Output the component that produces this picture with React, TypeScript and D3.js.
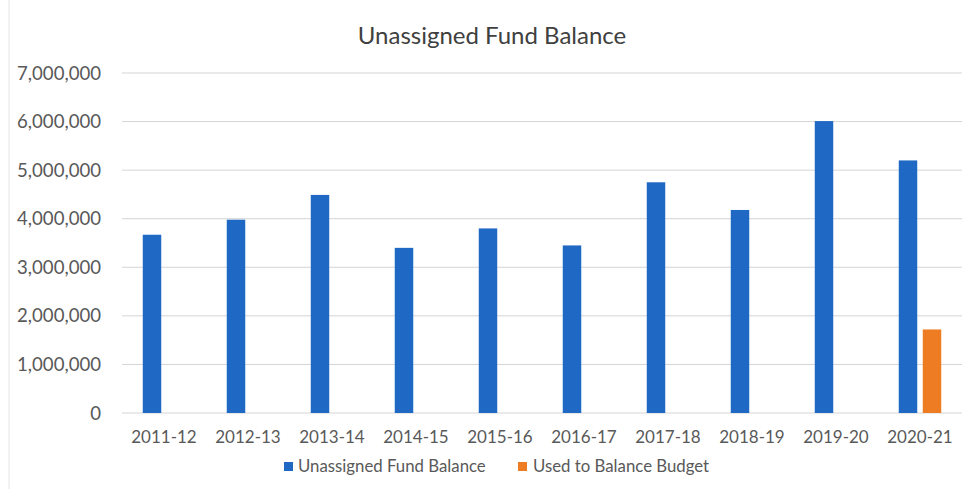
import React from "react";
import * as d3 from "d3";

const categories = ["2011-12", "2012-13", "2013-14", "2014-15", "2015-16", "2016-17", "2017-18", "2018-19", "2019-20", "2020-21"];
const unassigned = [3670000, 3980000, 4490000, 3400000, 3800000, 3450000, 4750000, 4180000, 6010000, 5200000];
const usedToBalance: (number | null)[] = [null, null, null, null, null, null, null, null, null, 1720000];
const seriesNames = ["Unassigned Fund Balance", "Used to Balance Budget"];
const seriesColors = ["#1f68c4", "#ee7c22"];
const yTicks = [0, 1000000, 2000000, 3000000, 4000000, 5000000, 6000000, 7000000];

const W = 966;
const H = 489;
const FONT = "Lato, 'Open Sans', sans-serif";

export default function App() {
  const x = d3.scaleBand<string>().domain(categories).range([122, 962]).paddingInner(0).paddingOuter(0);
  const bw = x.bandwidth();
  const sub = d3
    .scaleBand<string>()
    .domain(seriesNames)
    .range([bw / 2 - 24, bw / 2 + 24])
    .paddingInner(0.23)
    .paddingOuter(0.115);
  const y = d3.scaleLinear().domain([0, 7000000]).range([413, 73]);
  const fmt = d3.format(",");

  const seriesData = [unassigned, usedToBalance];

  return (
    <svg width={W} height={H} style={{ position: "absolute", left: 0, top: 0, background: "#fff" }}>
      <rect x={0} y={0} width={W} height={H} fill="#fff" />
      <line x1={9} x2={9} y1={0} y2={H} stroke="#e4e4e4" />
      <text x={492} y={44} textAnchor="middle" fontFamily={FONT} fontSize={24} fill="#404040">
        Unassigned Fund Balance
      </text>
      {yTicks.map((t) => (
        <g key={t}>
          <line x1={122} x2={962} y1={y(t)} y2={y(t)} stroke="#d4d4d4" strokeWidth={1} />
          <text x={101} y={y(t) + 6.5} textAnchor="end" fontFamily={FONT} fontSize={18.6} fill="#595959">
            {fmt(t)}
          </text>
        </g>
      ))}
      {seriesData.map((vals, si) =>
        vals.map((v, i) =>
          v == null ? null : (
            <rect
              key={si + "-" + i}
              x={(x(categories[i]) as number) + (sub(seriesNames[si]) as number)}
              y={y(v)}
              width={sub.bandwidth()}
              height={y(0) - y(v)}
              fill={seriesColors[si]}
            />
          )
        )
      )}
      {categories.map((c) => (
        <text
          key={c}
          x={(x(c) as number) + bw / 2}
          y={443}
          textAnchor="middle"
          fontFamily={FONT}
          fontSize={17}
          fill="#595959"
        >
          {c}
        </text>
      ))}
      <g>
        <rect x={284} y={462} width={9} height={9} fill={seriesColors[0]} />
        <text x={298} y={472} fontFamily={FONT} fontSize={16.8} fill="#595959">
          {seriesNames[0]}
        </text>
        <rect x={518} y={462} width={9} height={9} fill={seriesColors[1]} />
        <text x={533} y={472} fontFamily={FONT} fontSize={16.8} fill="#595959">
          {seriesNames[1]}
        </text>
      </g>
    </svg>
  );
}
